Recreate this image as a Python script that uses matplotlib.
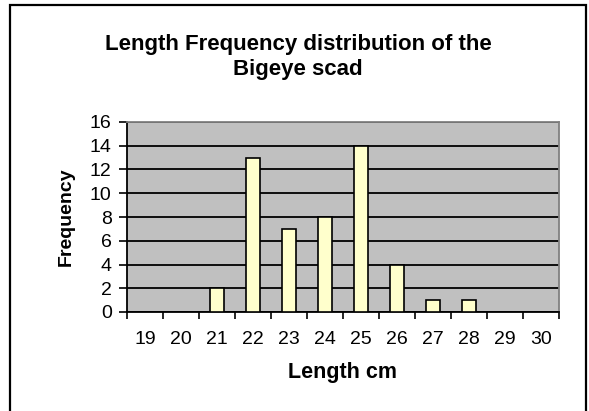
import matplotlib.pyplot as plt
import matplotlib.patches as patches
import numpy as np

plt.rcParams['font.family'] = ['Liberation Sans', 'DejaVu Sans']

# data
lengths = [19, 20, 21, 22, 23, 24, 25, 26, 27, 28, 29, 30]
frequency = [0, 0, 2, 13, 7, 8, 14, 4, 1, 1, 0, 0]
y_ticks = [0, 2, 4, 6, 8, 10, 12, 14, 16]

fig = plt.figure(figsize=(5.89, 4.11), dpi=100)
fig.patch.set_facecolor('white')

# chart-area border (Excel style)
fig.patches.append(patches.Rectangle((10 / 589, -0.02), 576 / 589, 1.02 - 5 / 411,
                                     transform=fig.transFigure, fill=False,
                                     edgecolor='black', linewidth=1.6))

ax = fig.add_axes([127 / 589, 1 - 312 / 411, 432 / 589, 190 / 411])
ax.set_facecolor('#C0C0C0')

x = np.arange(len(lengths))
ax.bar(x, frequency, width=0.4, color='#FFFFCC', edgecolor='black', linewidth=1.2, zorder=3)

ax.set_xlim(-0.5, len(lengths) - 0.5)
ax.set_ylim(0, 16)
ax.set_yticks(y_ticks)
ax.yaxis.grid(True, color='black', linewidth=1.3, zorder=1)
ax.set_axisbelow(True)

# ticks at category boundaries, labels at centres
ax.set_xticks(np.arange(-0.5, len(lengths)), minor=True)
ax.set_xticks(x)
ax.set_xticklabels([str(v) for v in lengths])
ax.tick_params(axis='x', which='major', length=0, pad=14, labelsize=14)
ax.tick_params(axis='x', which='minor', length=5, width=1.2, direction='out')
ax.tick_params(axis='y', length=6, width=1.2, direction='out', pad=5, labelsize=14)

for s in ['left', 'bottom']:
    ax.spines[s].set_color('black')
    ax.spines[s].set_linewidth(1.3)
for s in ['top', 'right']:
    ax.spines[s].set_color('#808080')
    ax.spines[s].set_linewidth(1.3)

ax.set_xlabel('Length cm', fontsize=15.5, fontweight='bold', labelpad=10)
ax.set_ylabel('Frequency', fontsize=14, fontweight='bold', labelpad=11)

fig.text(298 / 589, 1 - 57 / 411, 'Length Frequency distribution of the\nBigeye scad',
         ha='center', va='center', fontsize=16, fontweight='bold', linespacing=1.25)

fig.savefig('out.png', dpi=100)
